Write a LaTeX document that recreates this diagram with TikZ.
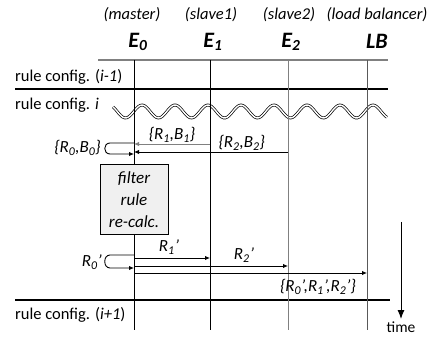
\documentclass[tikz,border=0pt]{standalone}
\usepackage{fontspec}
\setmainfont{Carlito}
\usetikzlibrary{arrows.meta,positioning,calc}
\newcommand{\lo}[1]{\textsubscript{#1}}

\begin{document}
\begin{tikzpicture}[x=1pt,y=-1pt]
  \tikzstyle{hdr}=[font=\fontsize{16.5}{18}\selectfont\itshape]
  \tikzstyle{ent}=[font=\fontsize{22}{24}\selectfont\bfseries\itshape]
  \tikzstyle{phase}=[font=\fontsize{16.5}{18}\selectfont, anchor=west, inner sep=0]
  \tikzstyle{msg}=[font=\fontsize{17}{19}\selectfont\itshape, inner sep=1pt]
  \tikzstyle{life}=[line width=1pt]
  \tikzstyle{sep}=[line width=2.6pt]
  \tikzstyle{arr}=[line width=0.9pt, -{Latex[length=5pt,width=4.5pt]}]
  \tikzstyle{calcbox}=[draw, line width=1pt, fill=gray!12, minimum width=68, minimum height=70, inner sep=0, align=center, font=\fontsize{17}{22}\selectfont\itshape]
  \useasboundingbox (0,0) rectangle (440,337);

  % Kopf
  \node[hdr] (hm) at (132,15) {(master)};
  \node[hdr] (hs1) at (211,15) {(slave1)};
  \node[hdr] (hs2) at (289,15) {(slave2)};
  \node[hdr] (hlb) at (377,15) {(load balancer)};
  \node[ent] (e0) at (138,42) {E\lo{0}};
  \node[ent] (e1) at (213,42) {E\lo{1}};
  \node[ent] (e2) at (291,42) {E\lo{2}};
  \node[ent] (lb) at (377,41) {LB};

  % Phasen
  \draw[gray, line width=1.2pt] (98,60) -- (388,60);
  \draw[sep] (15,89) -- (388,89);
  \draw[sep] (15,300) -- (390,300);
  \node[phase] (p0) at (15,77) {rule config. (\textit{i-1})};
  \node[phase] (p1) at (15,105) {rule config. \textit{i}};
  \node[phase] (p2) at (15,315) {rule config. (\textit{i+1})};
  \draw[double, line width=0.7pt, double distance=1.4pt] plot[domain=113:387, samples=140, smooth] (\x, {111.5-6.5*cos((\x-142)*10.909)});

  % Lebenslinien
  \coordinate (t0) at (134,60); \coordinate (b0) at (134,330);
  \coordinate (t1) at (210,60); \coordinate (b1) at (210,330);
  \coordinate (t2) at (288,60); \coordinate (b2) at (288,330);
  \coordinate (t3) at (367,60); \coordinate (b3) at (367,330);
  \draw[life] (t0) -- (b0);
  \draw[life] (t1) -- (b1);
  \draw[life, gray] (t2) -- (b2);
  \draw[life, black!65] (t3) -- (b3);

  % Runde i: Regeln und Buckets zum Master
  \coordinate (r1s) at (210,144); \coordinate (r1e) at (134,144);
  \coordinate (r2s) at (288,152); \coordinate (r2e) at (134,152);
  \coordinate (l0a) at (134,143); \coordinate (l0b) at (134,154);
  \draw[arr, gray] (r1s) -- node[msg, above, black] {\{R\lo{1},B\lo{1}\}} (r1e);
  \draw[arr] (r2s) -- node[msg, above, pos=0.3] {\{R\lo{2},B\lo{2}\}} (r2e);
  \draw[arr] (l0a) -- ++(-24,0) .. controls +(-7,0) and +(-7,0) .. ++(0,11) -- (l0b);
  \node[msg, anchor=east] (rb0) at (102,148) {\{R\lo{0},B\lo{0}\}};

  \node[calcbox] (calc) at (134,200) {filter\\rule\\re-calc.};

  % neue Regeln verteilen
  \coordinate (l1a) at (134,255); \coordinate (l1b) at (134,268);
  \coordinate (n1s) at (134,258); \coordinate (n1e) at (210,258);
  \coordinate (n2s) at (134,266); \coordinate (n2e) at (288,266);
  \coordinate (n3s) at (134,273); \coordinate (n3e) at (367,273);
  \draw[arr] (l1a) -- ++(-24,0) .. controls +(-7,0) and +(-7,0) .. ++(0,13) -- (l1b);
  \node[msg, anchor=east] (rn0) at (103,262) {R\lo{0}'};
  \draw[arr] (n1s) -- (n1e);
  \draw[arr] (n2s) -- (n2e);
  \draw[arr] (n3s) -- (n3e);
  \node[msg] (rn1) at (169,247) {R\lo{1}'};
  \node[msg] (rn2) at (244,255) {R\lo{2}'};
  \node[msg] (rnall) at (318,287) {\{R\lo{0}',R\lo{1}',R\lo{2}'\}};

  % Zeitachse
  \coordinate (tm0) at (401,222); \coordinate (tm1) at (401,319);
  \draw[line width=1pt, -{Latex[length=9pt,width=7pt]}] (tm0) -- (tm1);
  \node[font=\fontsize{15.5}{17}\selectfont, inner sep=0] (time) at (401,327) {time};
\end{tikzpicture}
\end{document}
